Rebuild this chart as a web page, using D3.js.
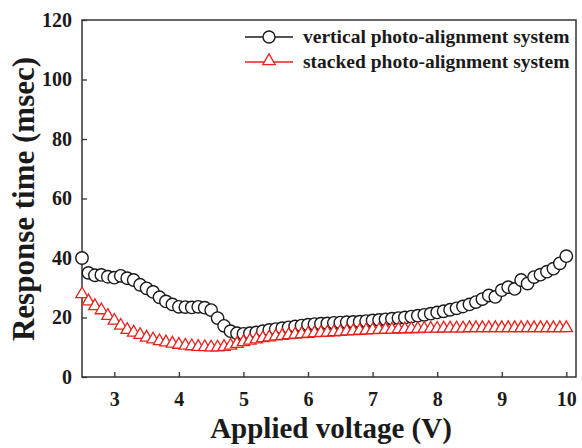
<!DOCTYPE html>
<html>
<head>
<meta charset="utf-8">
<script src="https://cdn.jsdelivr.net/npm/d3@7"></script>
<style>
    body { margin: 0; background: #fff; }
    svg text { font-family: "Liberation Serif", "Times New Roman", serif; font-weight: bold; fill: #1a1a1a; }
</style>
</head>
<body>
<svg id="chart" width="582" height="448"></svg>
<script>
// applied voltage (V)
var voltage = [2.5, 2.6, 2.7, 2.8, 2.9, 3.0, 3.1, 3.2, 3.3, 3.4,
    3.5, 3.6, 3.7, 3.8, 3.9, 4.0, 4.1, 4.2, 4.3, 4.4,
    4.5, 4.6, 4.7, 4.8, 4.9, 5.0, 5.1, 5.2, 5.3, 5.4,
    5.5, 5.6, 5.7, 5.8, 5.9, 6.0, 6.1, 6.2, 6.3, 6.4,
    6.5, 6.6, 6.7, 6.8, 6.9, 7.0, 7.1, 7.2, 7.3, 7.4,
    7.5, 7.6, 7.7, 7.8, 7.9, 8.0, 8.1, 8.2, 8.3, 8.4,
    8.5, 8.6, 8.7, 8.8, 8.9, 9.0, 9.1, 9.2, 9.3, 9.4,
    9.5, 9.6, 9.7, 9.8, 9.9, 10.0];

// response time (msec), vertical photo-alignment system
var verticalTime = [40.0, 35.0, 34.2, 34.3, 33.7, 33.4, 34.0, 33.2, 32.6, 31.0,
    29.8, 28.6, 26.8, 25.4, 24.4, 23.6, 23.5, 23.4, 23.6, 23.3,
    22.5, 19.8, 17.2, 15.4, 14.7, 14.5, 14.7, 15.0, 15.4, 15.8,
    16.1, 16.4, 16.7, 17.0, 17.3, 17.6, 17.8, 17.9, 18.0, 18.2,
    18.3, 18.4, 18.5, 18.6, 18.8, 19.0, 19.2, 19.4, 19.6, 19.8,
    20.0, 20.3, 20.6, 20.9, 21.3, 21.7, 22.1, 22.6, 23.1, 23.7,
    24.4, 25.2, 26.2, 27.4, 26.9, 29.2, 30.2, 29.6, 32.6, 31.4,
    33.6, 34.4, 35.4, 36.4, 38.2, 40.6];

// response time (msec), stacked photo-alignment system
var stackedTime = [28.2, 25.8, 24.2, 22.8, 20.9, 19.3, 17.6, 16.2, 15.3, 14.5,
    13.6, 13.0, 12.4, 12.0, 11.6, 11.2, 10.9, 10.7, 10.5, 10.4,
    10.3, 10.3, 10.5, 10.9, 11.5, 12.1, 12.6, 13.0, 13.4, 13.7,
    14.0, 14.2, 14.4, 14.6, 14.8, 14.9, 15.1, 15.2, 15.3, 15.4,
    15.5, 15.7, 15.8, 15.9, 16.0, 16.1, 16.2, 16.3, 16.3, 16.4,
    16.4, 16.5, 16.5, 16.6, 16.6, 16.6, 16.7, 16.7, 16.7, 16.7,
    16.8, 16.8, 16.8, 16.8, 16.8, 16.8, 16.8, 16.8, 16.8, 16.8,
    16.8, 16.8, 16.8, 16.8, 16.8, 16.8];

var xTicks = [3, 4, 5, 6, 7, 8, 9, 10];
var yTicks = [0, 20, 40, 60, 80, 100, 120];
var seriesNames = ["vertical photo-alignment system", "stacked photo-alignment system"];

var redColor = "#e8211c";
var darkColor = "#1a1a1a";

/**
 * Draws the whole figure into the svg
 */
function drawChart() {
    var left = 82, right = 576, top = 20, bottom = 377;

    var svg = d3.select("#chart");

    var x = d3.scaleLinear().domain([2.5, 10.15]).range([left, right]);
    var y = d3.scaleLinear().domain([0, 120]).range([bottom, top]);

    // frame round the plot area
    svg.append("rect")
        .attr("x", left)
        .attr("y", top)
        .attr("width", right - left)
        .attr("height", bottom - top)
        .attr("fill", "none")
        .attr("stroke", "#333")
        .attr("stroke-width", 1.5);

    // axes, ticks point inwards
    var xAxis = svg.append("g")
        .attr("transform", "translate(0," + bottom + ")")
        .call(d3.axisBottom(x).tickValues(xTicks).tickSizeInner(-5).tickSizeOuter(0).tickPadding(15));
    var yAxis = svg.append("g")
        .attr("transform", "translate(" + left + ",0)")
        .call(d3.axisLeft(y).tickValues(yTicks).tickSizeInner(-5).tickSizeOuter(0).tickPadding(10));

    [xAxis, yAxis].forEach(function(a) {
        a.select(".domain").remove();
        a.selectAll(".tick line").attr("stroke", "#333").attr("stroke-width", 1.3);
        a.selectAll(".tick text")
            .attr("font-family", null)
            .attr("font-size", null)
            .style("font-size", "20px")
            .attr("fill", darkColor);
    });

    // axis titles
    svg.append("text")
        .attr("x", 331)
        .attr("y", 438)
        .attr("text-anchor", "middle")
        .style("font-size", "29px")
        .text("Applied voltage (V)");

    svg.append("text")
        .attr("transform", "translate(34,199) rotate(-90)")
        .attr("text-anchor", "middle")
        .style("font-size", "31px")
        .text("Response time (msec)");

    // helper for the triangle symbol
    var triangle = d3.symbol().type(d3.symbolTriangle).size(66);

    // vertical system, open circles
    svg.append("g").selectAll("circle")
        .data(voltage)
        .enter().append("circle")
        .attr("cx", function(d) { return x(d); })
        .attr("cy", function(d, i) { return y(verticalTime[i]); })
        .attr("r", 6.2)
        .attr("fill", "#fff")
        .attr("stroke", darkColor)
        .attr("stroke-width", 1.4);

    // stacked system, open triangles
    svg.append("g").selectAll("path")
        .data(voltage)
        .enter().append("path")
        .attr("d", triangle)
        .attr("transform", function(d, i) { return "translate(" + x(d) + "," + (y(stackedTime[i]) + 1) + ")"; })
        .attr("fill", "#fff")
        .attr("stroke", redColor)
        .attr("stroke-width", 1.3);

    // legend in the upper right corner
    var legend = svg.append("g");
    var rows = [
        {name: seriesNames[0], color: darkColor, y: 37},
        {name: seriesNames[1], color: redColor, y: 62}
    ];
    rows.forEach(function(r, i) {
        legend.append("line")
            .attr("x1", 245).attr("x2", 293)
            .attr("y1", r.y).attr("y2", r.y)
            .attr("stroke", r.color)
            .attr("stroke-width", 1.4);
        if (i === 0) {
            legend.append("circle")
                .attr("cx", 269).attr("cy", r.y).attr("r", 6)
                .attr("fill", "#fff").attr("stroke", r.color).attr("stroke-width", 1.4);
        } else {
            legend.append("path")
                .attr("d", triangle)
                .attr("transform", "translate(269," + (r.y - 1) + ")")
                .attr("fill", "#fff").attr("stroke", r.color).attr("stroke-width", 1.3);
        }
        legend.append("text")
            .attr("x", 303)
            .attr("y", r.y + 6)
            .style("font-size", "19.5px")
            .text(r.name);
    });
}

drawChart();
</script>
</body>
</html>
